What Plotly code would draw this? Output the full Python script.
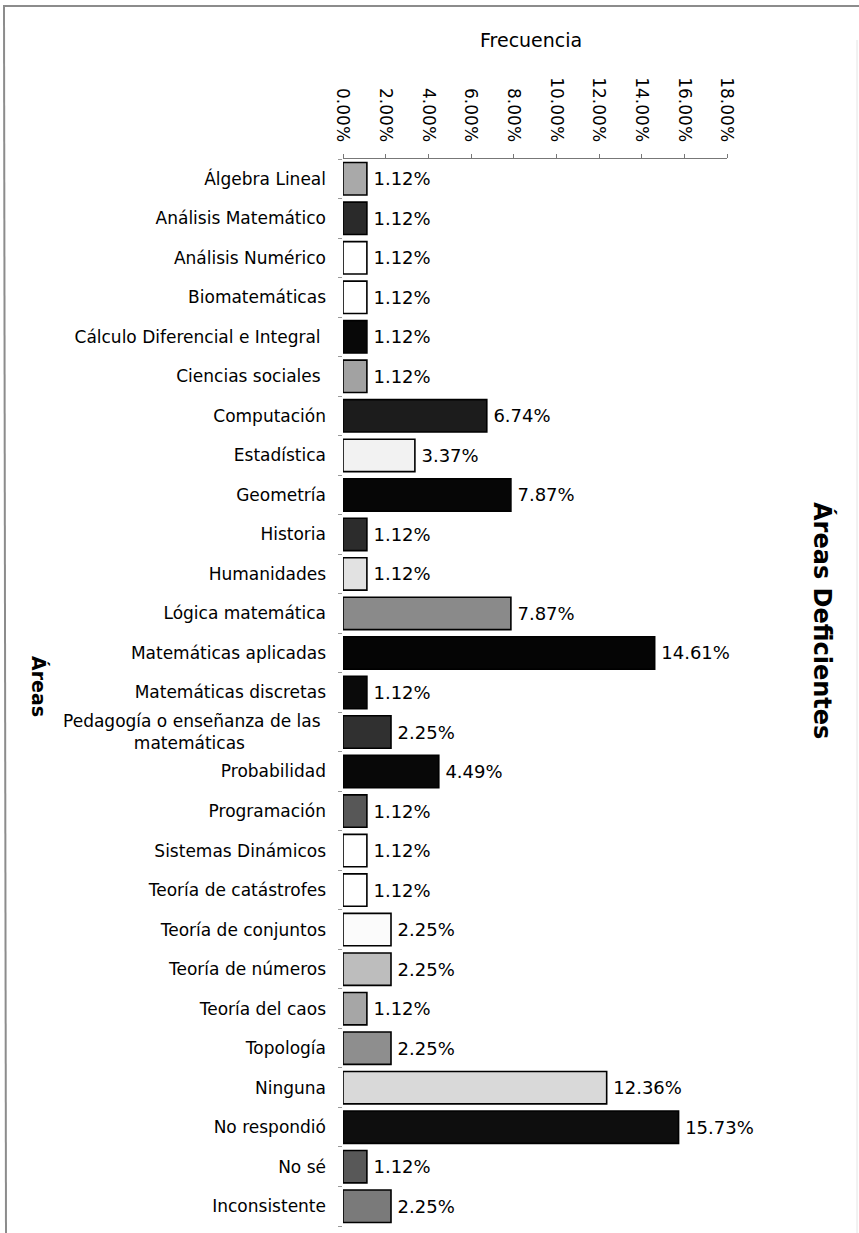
import plotly.graph_objects as go

categories = [
    "Álgebra Lineal", "Análisis Matemático", "Análisis Numérico", "Biomatemáticas",
    "Cálculo Diferencial e Integral", "Ciencias sociales", "Computación", "Estadística",
    "Geometría", "Historia", "Humanidades", "Lógica matemática", "Matemáticas aplicadas",
    "Matemáticas discretas", "Pedagogía o enseñanza de las matemáticas", "Probabilidad",
    "Programación", "Sistemas Dinámicos", "Teoría de catástrofes", "Teoría de conjuntos",
    "Teoría de números", "Teoría del caos", "Topología", "Ninguna", "No respondió",
    "No sé", "Inconsistente",
]
values = [1.12, 1.12, 1.12, 1.12, 1.12, 1.12, 6.74, 3.37, 7.87, 1.12, 1.12, 7.87, 14.61,
          1.12, 2.25, 4.49, 1.12, 1.12, 1.12, 2.25, 2.25, 1.12, 2.25, 12.36, 15.73, 1.12, 2.25]
bar_colors = ["#a9a9a9", "#2a2a2a", "#ffffff", "#ffffff", "#080808", "#a2a2a2", "#1c1c1c",
              "#f2f2f2", "#060606", "#2c2c2c", "#e2e2e2", "#8a8a8a", "#050505", "#0a0a0a",
              "#303030", "#080808", "#575757", "#ffffff", "#ffffff", "#fbfbfb", "#bdbdbd",
              "#a6a6a6", "#8e8e8e", "#d9d9d9", "#0e0e0e", "#585858", "#7a7a7a"]
x_ticks = [0, 2, 4, 6, 8, 10, 12, 14, 16, 18]

NB = "\u00a0"
ticktext = []
for c in categories:
    if c == "Pedagogía o enseñanza de las matemáticas":
        ticktext.append("Pedagogía o enseñanza de las" + NB + "<br>matemáticas" + NB * 15)
    elif c in ("Cálculo Diferencial e Integral", "Ciencias sociales"):
        ticktext.append(c + NB)
    else:
        ticktext.append(c)

W, H = 859, 1233
L, R, T, B = 343, 132, 159, 7
PW, PH = W - L - R, H - T - B

def px(x):
    return (x - L) / PW

def py(y):
    return (H - B - y) / PH

FONT = "DejaVu Sans"

fig = go.Figure(go.Bar(
    x=values, y=categories, orientation="h",
    marker=dict(color=bar_colors, line=dict(color="#000000", width=1.6)),
    width=0.82,
    text=[f"\u2009{v:.2f}%" for v in values], textposition="outside",
    textfont=dict(family=FONT, size=18, color="#000000"),
    cliponaxis=False,
))

fig.update_layout(
    width=W, height=H,
    margin=dict(l=L, r=R, t=T, b=B),
    paper_bgcolor="white", plot_bgcolor="white",
    showlegend=False,
    font=dict(family=FONT, color="#000000"),
    xaxis=dict(
        side="top", range=[0, 18], tickvals=x_ticks,
        ticktext=[f"{v:.2f}%" for v in x_ticks], tickangle=90,
        tickfont=dict(family=FONT, size=17, color="#000000"),
        showgrid=False, zeroline=False, showline=True, linecolor="#777777", linewidth=1,
        ticks="outside", ticklen=4, tickcolor="#777777", ticklabelstandoff=6,
    ),
    yaxis=dict(
        categoryorder="array", categoryarray=categories,
        tickvals=categories, ticktext=ticktext,
        range=[len(categories) - 0.5, -0.5],
        tickfont=dict(family=FONT, size=17, color="#000000"),
        showgrid=False, zeroline=False, showline=False,
        ticks="outside", tickson="boundaries", ticklen=4, tickcolor="#999999",
        ticklabelstandoff=16,
    ),
    annotations=[
        dict(text="Frecuencia", x=px(531), y=py(40), xref="paper", yref="paper",
             showarrow=False, font=dict(family=FONT, size=19, color="#000000"),
             xanchor="center", yanchor="middle"),
        dict(text="<b>Áreas</b>", x=px(39), y=py(686), xref="paper", yref="paper",
             showarrow=False, textangle=90, font=dict(family=FONT, size=19, color="#000000"),
             xanchor="center", yanchor="middle"),
        dict(text="<b>Áreas Deficientes</b>", x=px(823), y=py(620), xref="paper", yref="paper",
             showarrow=False, textangle=90, font=dict(family=FONT, size=24, color="#000000"),
             xanchor="center", yanchor="middle"),
    ],
    shapes=[
        dict(type="line", xref="paper", yref="paper", x0=px(3), x1=px(859), y0=py(6), y1=py(6),
             line=dict(color="#8c8c8c", width=2)),
        dict(type="line", xref="paper", yref="paper", x0=px(4), x1=px(6), y0=py(6), y1=py(1233),
             line=dict(color="#8c8c8c", width=2)),
        dict(type="line", xref="paper", yref="paper", x0=px(857), x1=px(857), y0=py(40), y1=py(1233),
             line=dict(color="#e4e4e4", width=1)),
    ],
)

fig.write_html("out.html")
